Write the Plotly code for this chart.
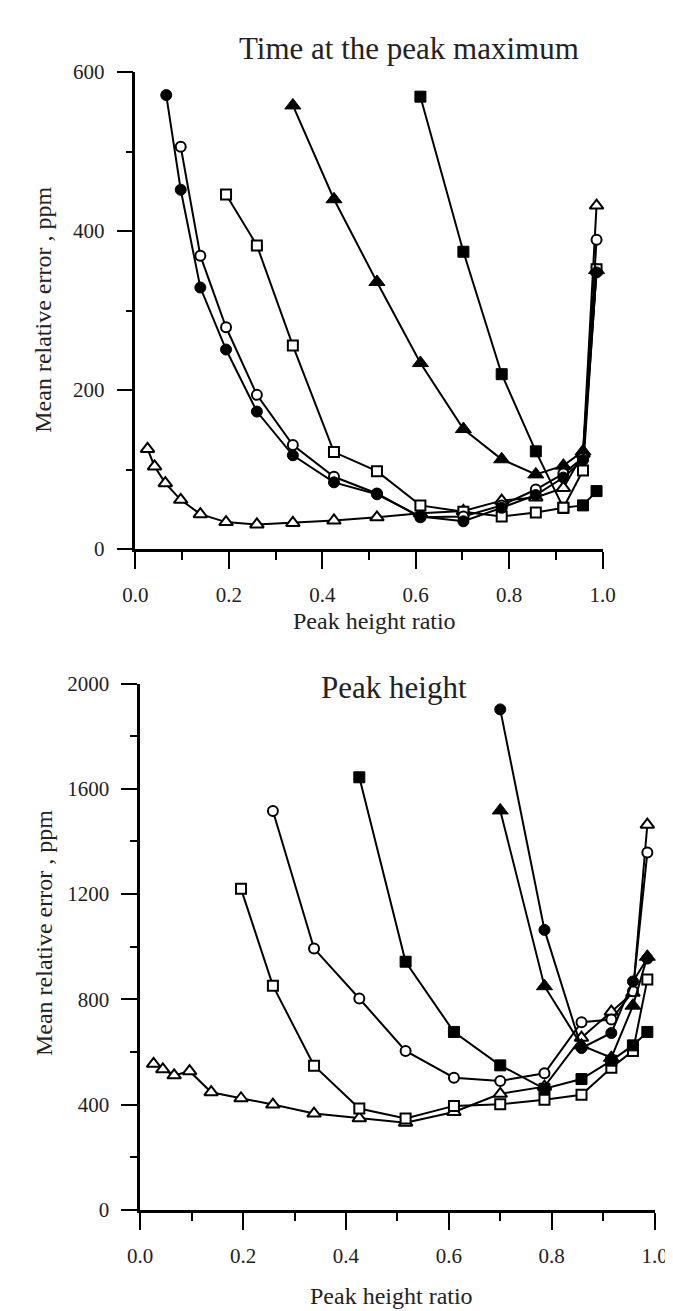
import plotly.graph_objects as go

W, H = 673, 1311
FONT = "Liberation Serif"

# ---------------- data: top panel (Time at the peak maximum) ----------------
top_filled_circle_x = [0.066, 0.097, 0.139, 0.194, 0.26, 0.337, 0.425, 0.517, 0.61, 0.702, 0.784, 0.857, 0.916, 0.958, 0.987]
top_filled_circle_y = [571, 452, 329, 251, 173, 118, 84, 69, 41, 35, 52, 68, 90, 112, 348]

top_open_circle_x = [0.097, 0.139, 0.194, 0.26, 0.337, 0.425, 0.517, 0.61, 0.702, 0.784, 0.857, 0.916, 0.958, 0.987]
top_open_circle_y = [506, 369, 279, 194, 131, 91, 70, 40, 41, 55, 75, 95, 115, 389]

top_open_square_x = [0.194, 0.26, 0.337, 0.425, 0.517, 0.61, 0.702, 0.784, 0.857, 0.916, 0.958, 0.987]
top_open_square_y = [446, 382, 256, 122, 98, 55, 47, 41, 46, 52, 99, 352]

top_filled_triangle_x = [0.337, 0.425, 0.517, 0.61, 0.702, 0.784, 0.857, 0.916, 0.958, 0.987]
top_filled_triangle_y = [558, 440, 336, 234, 151, 113, 94, 105, 123, 351]

top_filled_square_x = [0.61, 0.702, 0.784, 0.857, 0.916, 0.958, 0.987]
top_filled_square_y = [569, 374, 220, 123, 52, 55, 73]

top_open_triangle_x = [0.026, 0.041, 0.064, 0.097, 0.139, 0.194, 0.26, 0.337, 0.425, 0.517, 0.61, 0.702, 0.784, 0.857, 0.916, 0.958, 0.987]
top_open_triangle_y = [126, 104, 83, 62, 44, 34, 31, 33, 36, 40, 45, 48, 61, 65, 77, 120, 432]

# ---------------- data: bottom panel (Peak height) ----------------
bot_filled_circle_x = [0.70, 0.786, 0.858, 0.916, 0.958, 0.986]
bot_filled_circle_y = [1902, 1064, 615, 672, 868, 955]

bot_filled_triangle_x = [0.70, 0.786, 0.858, 0.916, 0.958, 0.986]
bot_filled_triangle_y = [1518, 850, 625, 578, 776, 962]

bot_filled_square_x = [0.426, 0.516, 0.61, 0.70, 0.786, 0.858, 0.916, 0.958, 0.986]
bot_filled_square_y = [1644, 943, 676, 549, 460, 497, 567, 625, 676]

bot_open_circle_x = [0.258, 0.338, 0.426, 0.516, 0.61, 0.70, 0.786, 0.858, 0.916, 0.958, 0.986]
bot_open_circle_y = [1516, 993, 803, 604, 502, 490, 519, 713, 723, 831, 1358]

bot_open_square_x = [0.196, 0.258, 0.338, 0.426, 0.516, 0.61, 0.70, 0.786, 0.858, 0.916, 0.958, 0.986]
bot_open_square_y = [1220, 852, 548, 385, 347, 395, 401, 418, 437, 540, 604, 875]

bot_open_triangle_x = [0.026, 0.044, 0.066, 0.096, 0.138, 0.196, 0.258, 0.338, 0.426, 0.516, 0.61, 0.70, 0.786, 0.858, 0.916, 0.958, 0.986]
bot_open_triangle_y = [555, 534, 511, 527, 447, 424, 400, 366, 348, 331, 372, 441, 468, 654, 753, 825, 1464]

x_tick_vals = [0.0, 0.2, 0.4, 0.6, 0.8, 1.0]
x_tick_text = ["0.0", "0.2", "0.4", "0.6", "0.8", "1.0"]
top_y_ticks = [0, 200, 400, 600]
bot_y_ticks = [0, 400, 800, 1200, 1600, 2000]

# ---------------- styles ----------------
STYLES = {
    "filled_circle": dict(symbol="circle", size=11, color="black", line=dict(color="black", width=1)),
    "open_circle": dict(symbol="circle", size=10, color="white", line=dict(color="black", width=2)),
    "filled_square": dict(symbol="square", size=11, color="black", line=dict(color="black", width=1)),
    "open_square": dict(symbol="square", size=10, color="white", line=dict(color="black", width=2)),
    "filled_triangle": dict(symbol="triangle-up", size=14, color="black", line=dict(color="black", width=1)),
    "open_triangle": dict(symbol="triangle-up", size=12, color="white", line=dict(color="black", width=2)),
}

fig = go.Figure()


def add(x, y, style, xa, ya):
    fig.add_trace(go.Scatter(
        x=x, y=y, mode="lines+markers", xaxis=xa, yaxis=ya,
        line=dict(color="black", width=2),
        marker=STYLES[style], cliponaxis=False, showlegend=False,
    ))


add(top_open_triangle_x, top_open_triangle_y, "open_triangle", "x", "y")
add(top_filled_square_x, top_filled_square_y, "filled_square", "x", "y")
add(top_filled_triangle_x, top_filled_triangle_y, "filled_triangle", "x", "y")
add(top_open_square_x, top_open_square_y, "open_square", "x", "y")
add(top_open_circle_x, top_open_circle_y, "open_circle", "x", "y")
add(top_filled_circle_x, top_filled_circle_y, "filled_circle", "x", "y")

add(bot_open_triangle_x, bot_open_triangle_y, "open_triangle", "x2", "y2")
add(bot_open_square_x, bot_open_square_y, "open_square", "x2", "y2")
add(bot_open_circle_x, bot_open_circle_y, "open_circle", "x2", "y2")
add(bot_filled_square_x, bot_filled_square_y, "filled_square", "x2", "y2")
add(bot_filled_triangle_x, bot_filled_triangle_y, "filled_triangle", "x2", "y2")
add(bot_filled_circle_x, bot_filled_circle_y, "filled_circle", "x2", "y2")


def px(x):
    return x / W


def py(y):
    return 1 - y / H


tickfont = dict(family=FONT, size=21, color="#222")


def xaxis(domain, anchor):
    return dict(
        domain=domain, anchor=anchor, range=[0, 1], showgrid=False, zeroline=False,
        showline=True, linecolor="black", linewidth=2.5,
        tickmode="array", tickvals=x_tick_vals, ticktext=x_tick_text,
        ticks="outside", ticklen=17, tickwidth=2, tickcolor="black",
        minor=dict(dtick=0.1, tick0=0, ticks="outside", ticklen=8, tickwidth=2,
                   tickcolor="black", showgrid=False),
        tickfont=tickfont, ticklabelstandoff=8,
    )


def yaxis(domain, anchor, rng, vals, minor_dtick):
    return dict(
        domain=domain, anchor=anchor, range=rng, showgrid=False, zeroline=False,
        showline=True, linecolor="black", linewidth=2.5,
        tickmode="array", tickvals=vals, ticktext=[str(v) for v in vals],
        ticks="outside", ticklen=16, tickwidth=2, tickcolor="black",
        minor=dict(dtick=minor_dtick, tick0=0, ticks="outside", ticklen=7, tickwidth=2,
                   tickcolor="black", showgrid=False),
        tickfont=tickfont, ticklabelstandoff=8,
    )


fig.update_layout(
    width=W, height=H,
    margin=dict(l=0, r=0, t=0, b=0),
    paper_bgcolor="white", plot_bgcolor="white",
    font=dict(family=FONT, color="#222"),
    xaxis=xaxis([px(119), px(605)], "y"),
    yaxis=yaxis([py(539), py(53)], "x", [0, 600], top_y_ticks, 100),
    xaxis2=xaxis([px(124), px(659)], "y2"),
    yaxis2=yaxis([py(1212), py(676)], "x2", [0, 2000], bot_y_ticks, 200),
)

ann = [
    dict(text="Time at the peak maximum", x=px(404), y=py(29), size=31, angle=0),
    dict(text="Peak height", x=px(388), y=py(680), size=31, angle=0),
    dict(text="Peak height ratio", x=px(368), y=py(612), size=24, angle=0),
    dict(text="Peak height ratio", x=px(385), y=py(1300), size=24, angle=0),
    dict(text="Mean relative error , ppm", x=px(22), y=py(295), size=24, angle=-90),
    dict(text="Mean relative error , ppm", x=px(24), y=py(930), size=24, angle=-90),
]
for a in ann:
    fig.add_annotation(
        text=a["text"], x=a["x"], y=a["y"], xref="paper", yref="paper",
        xanchor="center", yanchor="middle", showarrow=False, textangle=a["angle"],
        font=dict(family=FONT, size=a["size"], color="#222"),
    )

fig.write_html("out.html")
